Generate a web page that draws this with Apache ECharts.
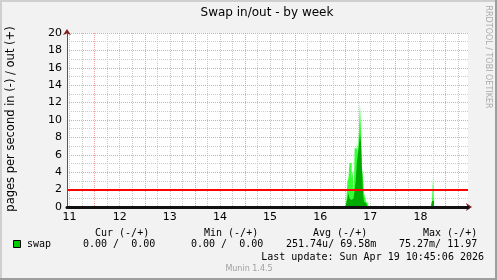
<!DOCTYPE html>
<html><head><meta charset="utf-8">
<script src="https://cdn.jsdelivr.net/npm/echarts@6/dist/echarts.min.js"></script>
<style>html,body{margin:0;padding:0;background:#f2f2f2}#c{width:497px;height:280px}</style>
</head><body><div id="c"></div>
<script>
// Time is in hours since Apr 11 00:00
const startHour = 10.75;
const endHour = 202.75;
const dayLabels = ['11', '12', '13', '14', '15', '16', '17', '18'];
const dayLabelHours = [12, 36, 60, 84, 108, 132, 156, 180];
const majorGridHours = [24, 48, 72, 96, 120, 144, 168, 192];
const minorGridHours = [12, 18, 30, 36, 42, 54, 60, 66, 78, 84, 90, 102, 108, 114, 126, 132, 138, 150, 156, 162, 174, 180, 186, 198];
const yMin = 0, yMax = 20, yMajorStep = 2;
const yMinorValues = [1, 3, 5, 7, 9, 11, 13, 15, 17, 19];
const warningLevels = [2];

const swapTimes = [10.75, 144.0, 144.5, 145.0, 145.5, 146.0, 146.5, 147.0, 147.5, 148.0, 148.5, 149.0, 149.5, 150.0, 150.5, 151.0, 151.5, 152.0, 152.5, 153.0, 153.5, 154.0, 154.5, 155.0, 185.0, 185.5, 186.0, 186.5, 202.75];
const swapPeak  = [0, 0, 0.8, 2.9, 3.3, 5.0, 5.1, 3.3, 4.2, 1.5, 6.8, 6.7, 7.5, 6.2, 8.5, 12.0, 9.0, 4.5, 3.3, 1.6, 1.0, 0.6, 0.4, 0, 0, 0.7, 3.4, 0, 0];
const swapBase  = [0, 0, 0.4, 1.0, 1.6, 1.0, 0.8, 0.6, 1.0, 0.8, 2.0, 3.0, 5.0, 6.0, 7.0, 8.5, 7.4, 4.2, 1.5, 0.6, 0.4, 0.3, 0, 0, 0, 0.7, 0.7, 0, 0];

const legendHeaders = ['Cur (-/+)', 'Min (-/+)', 'Avg (-/+)', 'Max (-/+)'];
const legendValues = ['0.00 /  0.00', '0.00 /  0.00', '251.74u/ 69.58m', '75.27m/ 11.97'];
const seriesName = 'swap';

const chart = echarts.init(document.getElementById('c'), null, {renderer: 'canvas'});
const mono = '10px "DejaVu Sans Mono"';
const sans = '"DejaVu Sans"';
const gridMinor = {color: '#cacaca', width: 1, type: [1, 1]};
const gridMajor = {color: '#eea2a2', width: 1, type: [1, 1]};

const headerX = [95, 204, 313, 423];
const valueX = [83, 191, 286, 399];
const graphics = [
  {type: 'rect', shape: {x: 0, y: 0, width: 497, height: 2}, style: {fill: '#cfcfcf'}},
  {type: 'rect', shape: {x: 0, y: 0, width: 2, height: 280}, style: {fill: '#cfcfcf'}},
  {type: 'rect', shape: {x: 0, y: 278, width: 497, height: 2}, style: {fill: '#9e9e9e'}},
  {type: 'rect', shape: {x: 495, y: 0, width: 2, height: 280}, style: {fill: '#9e9e9e'}},
  {type: 'text', x: 267, y: 13, style: {text: 'Swap in/out - by week', font: '12px ' + sans, fill: '#000', align: 'center', verticalAlign: 'middle'}},
  {type: 'text', x: 11, y: 119, rotation: Math.PI / 2, style: {text: 'pages per second in (-) / out (+)', font: '11.5px ' + sans, fill: '#000', align: 'center', verticalAlign: 'middle'}},
  {type: 'text', x: 488, y: 57, rotation: -Math.PI / 2, style: {text: 'RRDTOOL / TOBI OETIKER', font: '8px ' + sans, fill: '#aaaaaa', align: 'center', verticalAlign: 'middle'}},
  {type: 'rect', shape: {x: 13.5, y: 240.5, width: 7, height: 7}, style: {fill: '#00cc00', stroke: '#000', lineWidth: 1}},
  {type: 'text', x: 27, y: 244.5, style: {text: seriesName, font: mono, fill: '#000', align: 'left', verticalAlign: 'middle'}},
  {type: 'text', x: 484, y: 257, style: {text: 'Last update: Sun Apr 19 10:45:06 2026', font: mono, fill: '#000', align: 'right', verticalAlign: 'middle'}},
  {type: 'text', x: 249, y: 269, style: {text: 'Munin 1.4.5', font: '8px ' + sans, fill: '#a0a0a0', align: 'center', verticalAlign: 'middle'}}
];
legendHeaders.forEach((h, i) => graphics.push({type: 'text', x: headerX[i], y: 233, style: {text: h, font: mono, fill: '#000', align: 'left', verticalAlign: 'middle'}}));
legendValues.forEach((v, i) => graphics.push({type: 'text', x: valueX[i], y: 244.5, style: {text: v, font: mono, fill: '#000', align: 'left', verticalAlign: 'middle'}}));

function gridAxis(extra, lineStyle, custom) {
  return Object.assign({type: 'value', axisLine: {show: false}, axisLabel: {show: false},
    axisTick: {show: false, customValues: custom}, splitLine: {show: true, lineStyle: lineStyle}}, extra);
}

const option = {
  animation: false,
  backgroundColor: '#f2f2f2',
  grid: {left: 67, top: 33, width: 401, height: 174, show: true, backgroundColor: '#fff', borderWidth: 0, containLabel: false},
  xAxis: [
    gridAxis({min: startHour, max: endHour, position: 'bottom', z: 0}, gridMinor, minorGridHours),
    gridAxis({min: startHour, max: endHour, position: 'bottom', z: 1}, gridMajor, majorGridHours),
    {type: 'value', min: startHour, max: endHour, position: 'bottom', z: 3,
      axisLine: {show: true, onZero: false, symbol: ['none', 'arrow'], symbolSize: [6, 6], symbolOffset: [0, 4], lineStyle: {color: '#801f1f', width: 1}},
      axisLabel: {show: false}, axisTick: {show: false}, splitLine: {show: false}},
    {type: 'value', min: startHour, max: endHour, position: 'bottom', z: 4,
      axisLine: {show: true, onZero: false, lineStyle: {color: '#111', width: 3}},
      axisTick: {show: false},
      axisLabel: {show: true, customValues: dayLabelHours, margin: 5, color: '#000', fontSize: 11, fontFamily: sans,
        formatter: v => dayLabels[dayLabelHours.indexOf(v)]},
      splitLine: {show: false}}
  ],
  yAxis: [
    gridAxis({min: yMin, max: yMax, position: 'left', z: 0}, gridMinor, yMinorValues),
    {type: 'value', min: yMin, max: yMax, interval: yMajorStep, position: 'left', z: 1,
      axisLine: {show: false}, axisLabel: {show: false}, axisTick: {show: false},
      splitLine: {show: true, lineStyle: gridMajor}},
    {type: 'value', min: yMin, max: yMax, interval: yMajorStep, position: 'left', z: 3,
      axisLine: {show: true, onZero: false, symbol: ['none', 'arrow'], symbolSize: [6, 6], symbolOffset: [0, 4], lineStyle: {color: '#801f1f', width: 1}},
      axisLabel: {show: false}, axisTick: {show: false}, splitLine: {show: false}},
    {type: 'value', min: yMin, max: yMax, interval: yMajorStep, position: 'left', z: 4,
      axisLine: {show: true, onZero: false, lineStyle: {color: '#555', width: 1}},
      axisTick: {show: false},
      axisLabel: {show: true, margin: 5, color: '#000', fontSize: 11, fontFamily: sans},
      splitLine: {show: false}},
    // warning level rule, drawn above the series
    gridAxis({min: yMin, max: yMax, position: 'left', z: 3}, {color: '#ff0000', width: 2, type: 'solid'}, warningLevels)
  ],
  series: [
    {name: seriesName + ' peak', type: 'line', xAxisIndex: 3, yAxisIndex: 3, step: 'end', symbol: 'none', z: 2,
      lineStyle: {width: 0, opacity: 0}, areaStyle: {color: '#33ff33', opacity: 1},
      data: swapTimes.map((t, i) => [t, swapPeak[i]])},
    {name: seriesName, type: 'line', xAxisIndex: 3, yAxisIndex: 3, step: 'end', symbol: 'none', z: 2,
      lineStyle: {width: 0, opacity: 0}, areaStyle: {color: '#00aa00', opacity: 1},
      data: swapTimes.map((t, i) => [t, swapBase[i]])}
  ],
  graphic: graphics
};
chart.setOption(option);
</script>
</body></html>
